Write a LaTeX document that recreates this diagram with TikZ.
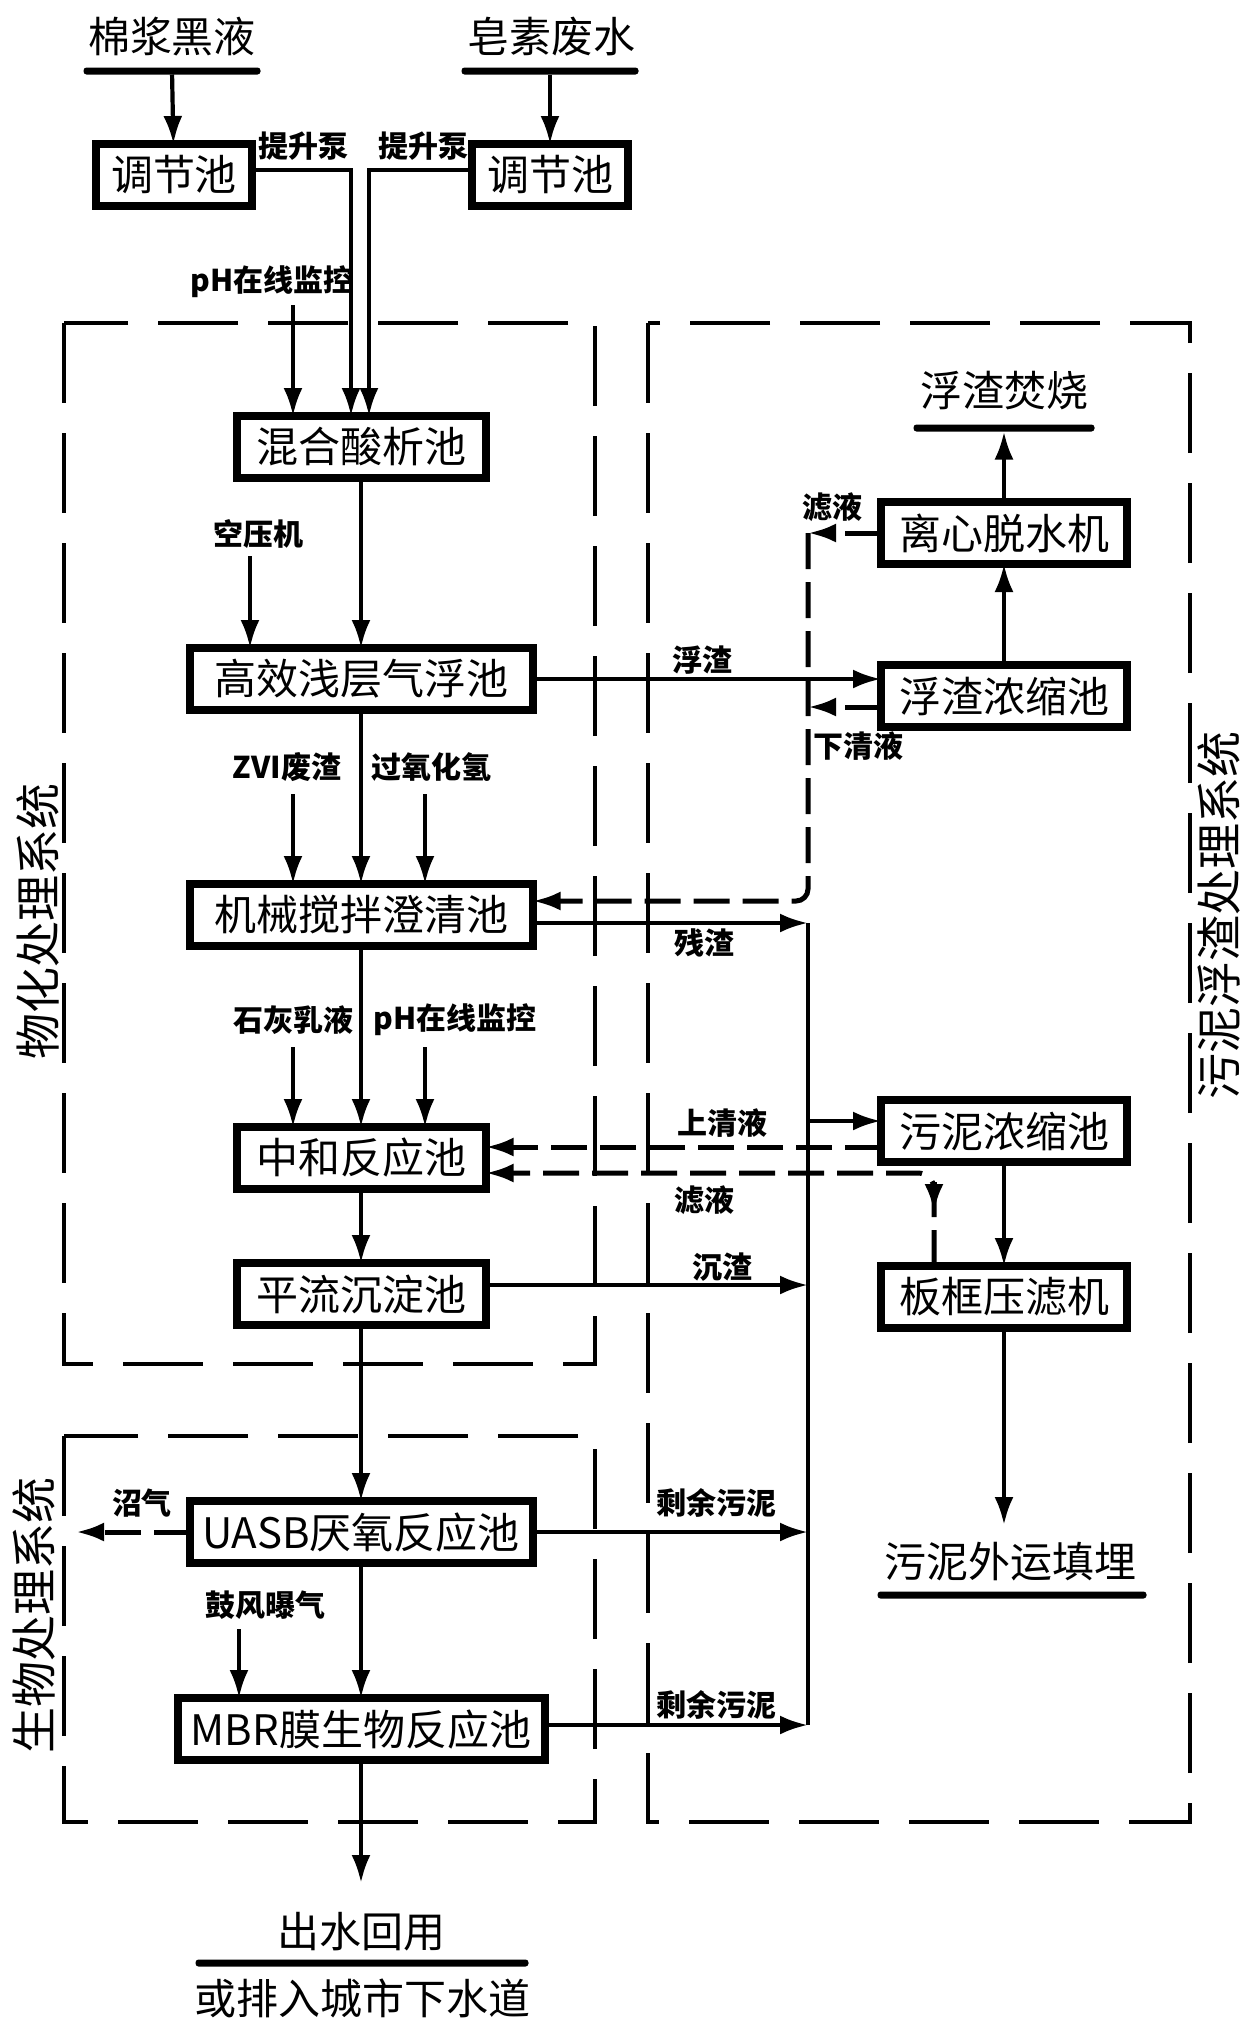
\documentclass[tikz,border=0pt]{standalone}
\usepackage{fontspec}
\setmainfont{Noto Sans CJK SC}
\usetikzlibrary{arrows.meta}

\begin{document}
\begin{tikzpicture}[->,>={Latex[length=14pt,width=9.5pt]},line width=2.1pt,x=0.5pt,y=-0.5pt,
  every node/.style={inner sep=0pt,outer sep=0pt},
  pool/.style={draw,line width=4pt,minimum height=31pt,font=\fontsize{21pt}{21pt}\selectfont},
  tag/.style={font=\bfseries\fontsize{15pt}{15pt}\selectfont},
  head/.style={font=\fontsize{21pt}{21pt}\selectfont},
  side/.style={rotate=90,font=\fontsize{23pt}{23pt}\selectfont},
  underbar/.style={fill,minimum height=3.5pt,rounded corners=1.5pt},
  dashline/.style={dash pattern=on 18pt off 6.5pt,line width=2.5pt},
  zone/.style={-,dash pattern=on 40pt off 15pt,line width=2.4pt}]
  \fill[white] (0,0) rectangle (1251,2031);
  \useasboundingbox (0,0) rectangle (1251,2031);
  % system frames
  \draw[zone] (64,323) rectangle (595,1364);
  \draw[zone] (64,1436) rectangle (595,1822);
  \draw[zone] (648,323) rectangle (1190,1822);
  \node[side] (zoneA) at (38,921) {物化处理系统};
  \node[side] (zoneB) at (34,1615) {生物处理系统};
  \node[side] (zoneC) at (1219,915) {污泥浮渣处理系统};
  % sources
  \node[head] (liquor) at (172,37) {棉浆黑液};
  \node[underbar,minimum width=88.5pt] (barA) at (172,71) {};
  \node[head] (saponin) at (551,37) {皂素废水};
  \node[underbar,minimum width=88.5pt] (barB) at (550,71) {};
  \node[pool,minimum width=78pt] (adjA) at (174,175) {调节池};
  \node[pool,minimum width=78pt] (adjB) at (550,175) {调节池};
  \node[tag] (pumpA) at (303,146) {提升泵};
  \node[tag] (pumpB) at (423,146) {提升泵};
  % main line
  \node[pool,minimum width=124.5pt] (mix) at (361,447) {混合酸析池};
  \node[pool,minimum width=171.5pt] (float) [node distance=116pt,below of=mix] {高效浅层气浮池};
  \node[pool,minimum width=171.5pt] (clar) [node distance=118pt,below of=float] {机械搅拌澄清池};
  \node[pool,minimum width=124.5pt] (neut) [node distance=121.5pt,below of=clar] {中和反应池};
  \node[pool,minimum width=124.5pt] (sed) [node distance=68pt,below of=neut] {平流沉淀池};
  \node[pool,minimum width=171.5pt] (uasb) [node distance=119pt,below of=sed] {UASB厌氧反应池};
  \node[pool,minimum width=183.5pt] (mbr) [node distance=98.5pt,below of=uasb] {MBR膜生物反应池};
  \node[head] (reuse) at (361,1932) {出水回用};
  \node[underbar,minimum width=166.5pt] (barD) at (362,1963) {};
  \node[head] (sewer) at (362,1998) {或排入城市下水道};
  % sludge line
  \node[pool,minimum width=123pt] (cent) at (1004,533) {离心脱水机};
  \node[pool,minimum width=123pt] (thick) [node distance=81.5pt,below of=cent] {浮渣浓缩池};
  \node[pool,minimum width=123pt] (sthick) [node distance=217.5pt,below of=thick] {污泥浓缩池};
  \node[pool,minimum width=123pt] (press) [node distance=83pt,below of=sthick] {板框压滤机};
  \node[head] (burn) at (1004,391) {浮渣焚烧};
  \node[underbar,minimum width=90.5pt] (barC) at (1004,428) {};
  \node[head] (land) at (1010,1562) {污泥外运填埋};
  \node[underbar,minimum width=134.5pt] (barE) at (1012,1595) {};
  % dosing and flow labels
  \node[tag] (ph1) at (272,282) {pH在线监控};
  \node[tag] (air) at (258,534) {空压机};
  \node[tag] (zvi) at (287,767) {ZVI废渣};
  \node[tag] (perox) at (431,767) {过氧化氢};
  \node[tag] (lime) at (293,1020) {石灰乳液};
  \node[tag] (ph2) at (455,1020) {pH在线监控};
  \node[tag] (blow) at (265,1605) {鼓风曝气};
  \node[tag] (gas) at (142,1503) {沼气};
  \node[tag] (scum) at (702,660) {浮渣};
  \node[tag] (filtA) at (832,507) {滤液};
  \node[tag] (under) at (858,746) {下清液};
  \node[tag] (resid) at (704,943) {残渣};
  \node[tag] (super) at (722,1123) {上清液};
  \node[tag] (filtB) at (704,1200) {滤液};
  \node[tag] (sedi) at (722,1267) {沉渣};
  \node[tag] (sludgeA) at (716,1503) {剩余污泥};
  \node[tag] (sludgeB) at (716,1705) {剩余污泥};
  \coordinate (ph1in) at (293,305);
  \coordinate (airin) at (250,556);
  \coordinate (zviin) at (293,794);
  \coordinate (peroxin) at (425,794);
  \coordinate (limein) at (293,1047);
  \coordinate (ph2in) at (425,1047);
  \coordinate (blowin) at (239,1629);
  \coordinate (gasout) at (76,1532);
  \coordinate (rail) at (808,923);
  \coordinate (railend) at (808,1725);
  \coordinate (outtip) at (361,1883);
  \coordinate (landtip) at (1004,1525);
  \coordinate (pressmark) at (934,1182);
  \coordinate (pressmarkend) at (934,1212);
  % water
  \draw (barA) -- (adjA);
  \draw (barB) -- (adjB);
  \draw ([yshift=2.5pt]adjA.east) -| ([xshift=-5pt]mix.north);
  \draw ([yshift=2.5pt]adjB.west) -| ([xshift=4pt]mix.north);
  \draw (ph1in) -- (ph1in |- mix.north);
  \draw (mix) -- (float);
  \draw (airin) -- (airin |- float.north);
  \draw (float) -- (clar);
  \draw (zviin) -- (zviin |- clar.north);
  \draw (peroxin) -- (peroxin |- clar.north);
  \draw (clar) -- (neut);
  \draw (limein) -- (limein |- neut.north);
  \draw (ph2in) -- (ph2in |- neut.north);
  \draw (neut) -- (sed);
  \draw (sed) -- (uasb);
  \draw (uasb) -- (mbr);
  \draw (blowin) -- (blowin |- mbr.north);
  \draw (mbr) -- (outtip);
  \draw[dashline] (uasb.west) -- (gasout);
  % scum and sludge
  \draw (float.east) -- (float.east -| thick.west);
  \draw (thick) -- (cent);
  \draw (cent) -- (barC);
  \draw[dashline] (cent.west) -- (cent.west -| rail);
  \draw[dashline] ([yshift=-5.5pt]thick.west) -- ([yshift=-5.5pt]thick.west -| rail);
  \draw[dashline,rounded corners=6pt] (cent.west -| rail) |- ([yshift=7pt]clar.east);
  \draw ([yshift=-4pt]clar.east) -- (rail);
  \draw[-] (rail) -- (railend);
  \draw ([yshift=5pt]sthick.west -| rail) -- ([yshift=5pt]sthick.west);
  \draw ([yshift=4.5pt]sed.east) -- ([yshift=4.5pt]sed.east -| rail);
  \draw (uasb.east) -- (uasb.east -| rail);
  \draw ([yshift=2pt]mbr.east) -- (railend);
  \draw (sthick) -- (press);
  \draw (press) -- (landtip);
  \draw[dashline] ([yshift=-8pt]sthick.west) -- ([yshift=-8pt]sthick.west -| neut.east);
  \draw[dashline,rounded corners=8pt] ([xshift=-35pt]press.north) |- ([yshift=-7.5pt]neut.east);
  \draw[dashline] (pressmark) -- (pressmarkend);
\end{tikzpicture}
\end{document}
